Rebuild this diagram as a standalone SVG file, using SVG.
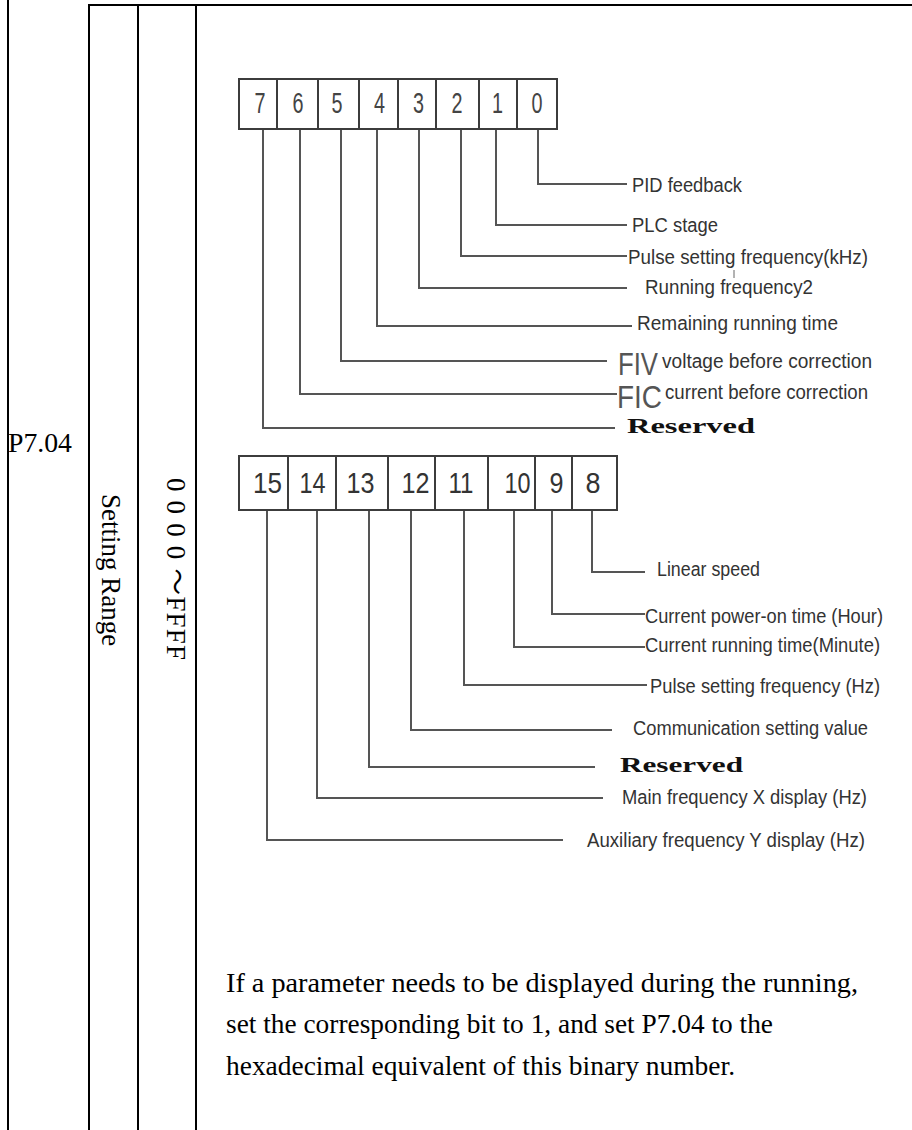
<svg xmlns="http://www.w3.org/2000/svg" width="912" height="1130" viewBox="0 0 912 1130">
<style>
.tbl{stroke:#000;stroke-width:2;fill:none}
.box{fill:#fff;stroke:#3c3c3c;stroke-width:2}
.cn{fill:none;stroke:#555;stroke-width:2;stroke-linejoin:miter}
.d1{font-family:"Liberation Sans",Arial,sans-serif;font-size:29px;fill:#444;text-anchor:middle}
.d2{font-family:"Liberation Sans",Arial,sans-serif;font-size:30px;fill:#333;text-anchor:middle}
.lb{font-family:"Liberation Sans",Arial,sans-serif;font-size:20px;fill:#333}
.big{font-family:"Liberation Sans",Arial,sans-serif;font-size:32px;fill:#555}
.rs{font-family:"Liberation Serif","Times New Roman",serif;font-weight:bold;font-size:22px;fill:#111}
.sf{font-family:"Liberation Serif","Times New Roman","Noto Sans CJK SC",serif;font-size:27px;fill:#000}
</style>
<rect width="912" height="1130" fill="#fff"/>
<g id="table">
<line class="tbl" x1="8" y1="0" x2="8" y2="1130"/>
<line class="tbl" x1="89" y1="5" x2="89" y2="1130"/>
<line class="tbl" x1="138" y1="5" x2="138" y2="1130"/>
<line class="tbl" x1="196" y1="5" x2="196" y2="1130"/>
<line class="tbl" x1="88" y1="5" x2="912" y2="5"/>
<text class="sf" x="8" y="452" textLength="64" lengthAdjust="spacingAndGlyphs">P7.04</text>
<text class="sf" transform="translate(102,570) rotate(90)" text-anchor="middle">Setting Range</text>
<text class="sf" transform="translate(167,478) rotate(90)" textLength="182" lengthAdjust="spacing">0 0 0 0 ～FFFF</text>
</g>
<g id="bits-low">
<g id="bit7"><rect class="box" x="239" y="79" width="38" height="50"/><text class="d1" x="260" y="113" textLength="11" lengthAdjust="spacingAndGlyphs">7</text></g>
<g id="bit6"><rect class="box" x="277" y="79" width="41" height="50"/><text class="d1" x="298" y="113" textLength="11" lengthAdjust="spacingAndGlyphs">6</text></g>
<g id="bit5"><rect class="box" x="318" y="79" width="41" height="50"/><text class="d1" x="337" y="113" textLength="11" lengthAdjust="spacingAndGlyphs">5</text></g>
<g id="bit4"><rect class="box" x="359" y="79" width="39" height="50"/><text class="d1" x="379.5" y="113" textLength="11" lengthAdjust="spacingAndGlyphs">4</text></g>
<g id="bit3"><rect class="box" x="398" y="79" width="38" height="50"/><text class="d1" x="418.5" y="113" textLength="11" lengthAdjust="spacingAndGlyphs">3</text></g>
<g id="bit2"><rect class="box" x="436" y="79" width="43" height="50"/><text class="d1" x="457" y="113" textLength="11" lengthAdjust="spacingAndGlyphs">2</text></g>
<g id="bit1"><rect class="box" x="479" y="79" width="38" height="50"/><text class="d1" x="497.5" y="113" textLength="11" lengthAdjust="spacingAndGlyphs">1</text></g>
<g id="bit0"><rect class="box" x="517" y="79" width="40" height="50"/><text class="d1" x="537" y="113" textLength="11" lengthAdjust="spacingAndGlyphs">0</text></g>
</g>
<g id="bits-high">
<g id="bit15"><rect class="box" x="239" y="456" width="49" height="54"/><text class="d2" x="267.5" y="493" textLength="29" lengthAdjust="spacingAndGlyphs">15</text></g>
<g id="bit14"><rect class="box" x="288" y="456" width="48" height="54"/><text class="d2" x="312.5" y="493" textLength="26" lengthAdjust="spacingAndGlyphs">14</text></g>
<g id="bit13"><rect class="box" x="336" y="456" width="52" height="54"/><text class="d2" x="360.5" y="493" textLength="28" lengthAdjust="spacingAndGlyphs">13</text></g>
<g id="bit12"><rect class="box" x="388" y="456" width="47" height="54"/><text class="d2" x="415.5" y="493" textLength="28" lengthAdjust="spacingAndGlyphs">12</text></g>
<g id="bit11"><rect class="box" x="435" y="456" width="53" height="54"/><text class="d2" x="461" y="493" textLength="25" lengthAdjust="spacingAndGlyphs">11</text></g>
<g id="bit10"><rect class="box" x="488" y="456" width="47" height="54"/><text class="d2" x="517.5" y="493" textLength="26" lengthAdjust="spacingAndGlyphs">10</text></g>
<g id="bit9"><rect class="box" x="535" y="456" width="37" height="54"/><text class="d2" x="556.5" y="493" textLength="14" lengthAdjust="spacingAndGlyphs">9</text></g>
<g id="bit8"><rect class="box" x="572" y="456" width="45" height="54"/><text class="d2" x="593" y="493" textLength="15" lengthAdjust="spacingAndGlyphs">8</text></g>
</g>
<g id="connectors">
<polyline class="cn" points="538,130 538,184 627,184"/>
<polyline class="cn" points="496,130 496,225 627,225"/>
<polyline class="cn" points="461,130 461,256 627,256"/>
<polyline class="cn" points="419,130 419,288 627,288"/>
<polyline class="cn" points="377,130 377,326 632,326"/>
<polyline class="cn" points="341,130 341,361 607,361"/>
<polyline class="cn" points="300,130 300,394 617,394"/>
<polyline class="cn" points="263,130 263,428 615,428"/>
<polyline class="cn" points="592,511 592,572 645,572"/>
<polyline class="cn" points="552,511 552,614 645,614"/>
<polyline class="cn" points="514,511 514,647 645,647"/>
<polyline class="cn" points="464,511 464,685 647,685"/>
<polyline class="cn" points="411,511 411,730 612,730"/>
<polyline class="cn" points="369,511 369,767 595,767"/>
<polyline class="cn" points="317,511 317,798 603,798"/>
<polyline class="cn" points="267,511 267,840 563,840"/>
<line x1="734" y1="270" x2="734" y2="278" stroke="#666" stroke-width="1"/>
</g>
<g id="labels-low">
<text id="lb0" class="lb" x="632" y="192" textLength="110" lengthAdjust="spacingAndGlyphs">PID feedback</text>
<text id="lb1" class="lb" x="632" y="232" textLength="86" lengthAdjust="spacingAndGlyphs">PLC stage</text>
<text id="lb2" class="lb" x="628" y="264" textLength="240" lengthAdjust="spacingAndGlyphs">Pulse setting  frequency(kHz)</text>
<text id="lb3" class="lb" x="645" y="294" textLength="168" lengthAdjust="spacingAndGlyphs">Running  frequency2</text>
<text id="lb4" class="lb" x="637" y="330" textLength="201" lengthAdjust="spacingAndGlyphs">Remaining  running  time</text>
<g id="lb5"><text class="big" x="618" y="375" textLength="40" lengthAdjust="spacingAndGlyphs">FIV</text><text class="lb" x="662" y="368" textLength="210" lengthAdjust="spacingAndGlyphs">voltage  before  correction</text></g>
<g id="lb6"><text class="big" x="617" y="408" textLength="45" lengthAdjust="spacingAndGlyphs">FIC</text><text class="lb" x="665" y="399" textLength="203" lengthAdjust="spacingAndGlyphs">current before correction</text></g>
<text id="lb7" class="rs" x="627" y="433" textLength="128" lengthAdjust="spacingAndGlyphs">Reserved</text>
</g>
<g id="labels-high">
<text id="lb8" class="lb" x="657" y="576" textLength="103" lengthAdjust="spacingAndGlyphs">Linear speed</text>
<text id="lb9" class="lb" x="645" y="623" textLength="238" lengthAdjust="spacingAndGlyphs">Current power-on time (Hour)</text>
<text id="lb10" class="lb" x="645" y="652" textLength="235" lengthAdjust="spacingAndGlyphs">Current running  time(Minute)</text>
<text id="lb11" class="lb" x="650" y="693" textLength="230" lengthAdjust="spacingAndGlyphs">Pulse setting frequency (Hz)</text>
<text id="lb12" class="lb" x="633" y="735" textLength="235" lengthAdjust="spacingAndGlyphs">Communication setting value</text>
<text id="lb13" class="rs" x="620" y="772" textLength="123" lengthAdjust="spacingAndGlyphs">Reserved</text>
<text id="lb14" class="lb" x="622" y="804" textLength="245" lengthAdjust="spacingAndGlyphs">Main frequency X display (Hz)</text>
<text id="lb15" class="lb" x="587" y="847" textLength="278" lengthAdjust="spacingAndGlyphs">Auxiliary  frequency Y display (Hz)</text>
</g>
<g id="note">
<text class="sf" x="226" y="992" textLength="632" lengthAdjust="spacingAndGlyphs">If a parameter needs to be displayed during the running,</text>
<text class="sf" x="226" y="1033" textLength="547" lengthAdjust="spacingAndGlyphs">set the corresponding bit to 1, and set P7.04 to the</text>
<text class="sf" x="226" y="1075" textLength="509" lengthAdjust="spacingAndGlyphs">hexadecimal equivalent of this binary number.</text>
</g>
</svg>
